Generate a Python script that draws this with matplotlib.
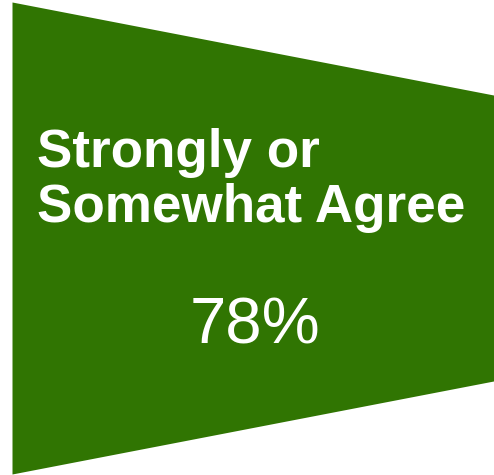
import matplotlib
matplotlib.use("Agg")
import matplotlib.pyplot as plt
from matplotlib.patches import Polygon

# one funnel stage: label and share of respondents
STAGE_LABEL = ["Strongly or", "Somewhat Agree"]
STAGE_PCT = [78]
GREEN = "#307502"

W, H = 494, 475
fig = plt.figure(figsize=(W / 100, H / 100), dpi=100)
ax = fig.add_axes([0, 0, 1, 1])
ax.set_xlim(0, W)
ax.set_ylim(H, 0)
ax.axis("off")

# funnel segment, narrowing to the right
x0, x1 = 12.5, 494
cy = 238.5
h0, h1 = 236, 143
ax.add_patch(Polygon([(x0, cy - h0), (x1, cy - h1), (x1, cy + h1), (x0, cy + h0)],
                     closed=True, facecolor=GREEN, edgecolor="none"))

ax.text(37, 167, STAGE_LABEL[0], color="white", fontsize=38.2, fontweight="bold",
        family="Liberation Sans", ha="left", va="baseline")
ax.text(37, 222, STAGE_LABEL[1], color="white", fontsize=38.2, fontweight="bold",
        family="Liberation Sans", ha="left", va="baseline")
ax.text(255, 343, f"{STAGE_PCT[0]}%", color="white", fontsize=47,
        family="Liberation Sans", ha="center", va="baseline")

fig.savefig("out.png", dpi=100)
